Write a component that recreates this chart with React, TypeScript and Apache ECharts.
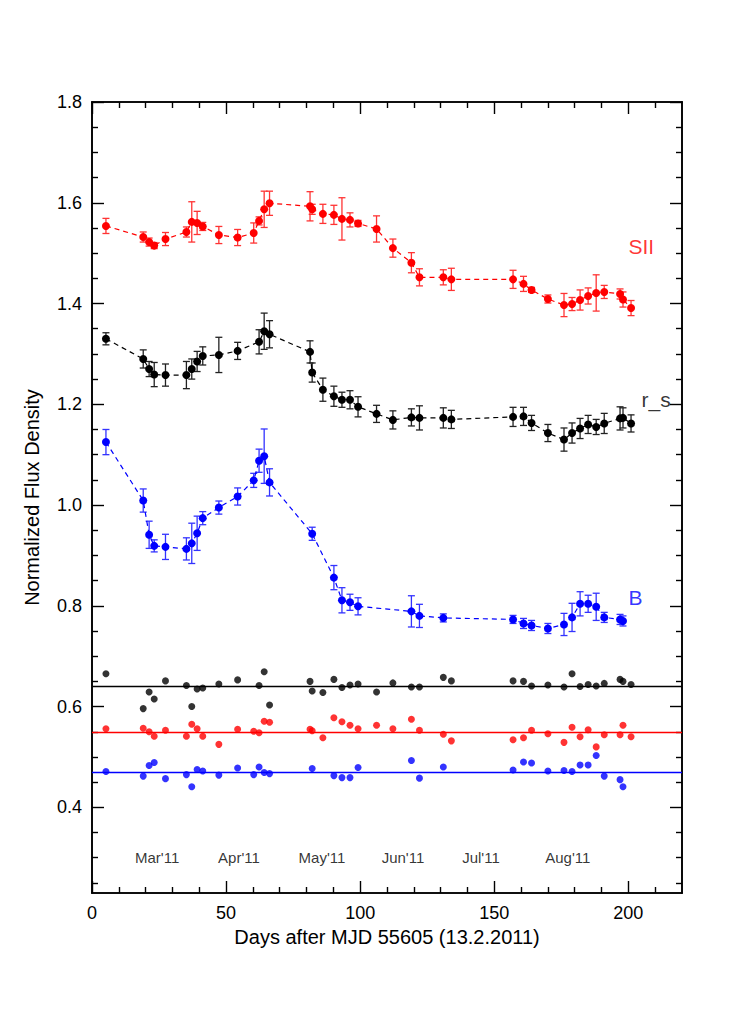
import React, { useEffect, useRef } from "react";
import * as echarts from "echarts";

const FONT = "Liberation Sans, Arial, Helvetica, sans-serif";

// SII (red)
const sDays = [5.2, 19.1, 21.3, 23.2, 27.4, 35.2, 37.2, 39.2, 41.3, 47.3, 54.3, 60.3, 62.3, 64.2, 66.2, 81.3, 82.1, 86.1, 90.2, 93.2, 96.2, 99.2, 106.1, 112.2, 119.1, 122.1, 131, 134, 157, 160.9, 163.9, 170, 176, 179, 182, 185, 188, 191, 196.9, 198, 201];
const sFlux = [1.554, 1.532, 1.522, 1.515, 1.528, 1.542, 1.562, 1.56, 1.553, 1.536, 1.531, 1.54, 1.564, 1.587, 1.599, 1.593, 1.587, 1.578, 1.576, 1.568, 1.566, 1.559, 1.548, 1.51, 1.481, 1.452, 1.452, 1.448, 1.448, 1.439, 1.427, 1.409, 1.397, 1.399, 1.407, 1.415, 1.421, 1.423, 1.419, 1.408, 1.391];
const sErr = [0.015, 0.01, 0.008, 0.006, 0.013, 0.01, 0.04, 0.023, 0.008, 0.017, 0.016, 0.02, 0.008, 0.036, 0.024, 0.029, 0.01, 0.019, 0.019, 0.042, 0.014, 0.006, 0.026, 0.018, 0.02, 0.017, 0.015, 0.022, 0.018, 0.015, 0.005, 0.008, 0.023, 0.013, 0.02, 0.016, 0.036, 0.013, 0.01, 0.015, 0.015];
const sComp = [0.556, 0.557, 0.55, 0.541, 0.553, 0.541, 0.565, 0.556, 0.541, 0.525, 0.555, 0.551, 0.548, 0.571, 0.569, 0.555, 0.552, 0.538, 0.578, 0.57, 0.563, 0.556, 0.563, 0.556, 0.575, 0.553, 0.545, 0.532, 0.534, 0.538, 0.553, 0.546, 0.529, 0.559, 0.54, 0.554, 0.52, 0.544, 0.544, 0.563, 0.54];
const sCompMean = 0.551;

// r_s (black)
const rDays = [5.2, 19.1, 21.3, 23.2, 27.4, 35.2, 37.2, 39.2, 41.3, 47.3, 54.3, 62.3, 64.2, 66.2, 81.3, 82.1, 86.1, 90.2, 93.2, 96.2, 99.2, 106.1, 112.2, 119.1, 122.1, 131, 134, 157, 160.9, 163.9, 170, 176, 179, 182, 185, 188, 191, 196.9, 198, 201];
const rFlux = [1.33, 1.29, 1.27, 1.259, 1.258, 1.258, 1.27, 1.285, 1.296, 1.298, 1.306, 1.324, 1.345, 1.339, 1.304, 1.263, 1.229, 1.216, 1.209, 1.209, 1.195, 1.181, 1.169, 1.174, 1.173, 1.173, 1.17, 1.175, 1.176, 1.163, 1.143, 1.13, 1.143, 1.152, 1.16, 1.155, 1.162, 1.172, 1.173, 1.162];
const rErr = [0.012, 0.018, 0.015, 0.024, 0.022, 0.027, 0.02, 0.02, 0.018, 0.035, 0.017, 0.024, 0.036, 0.027, 0.022, 0.019, 0.023, 0.02, 0.015, 0.018, 0.02, 0.017, 0.018, 0.017, 0.024, 0.02, 0.018, 0.019, 0.018, 0.015, 0.017, 0.023, 0.02, 0.02, 0.018, 0.015, 0.02, 0.023, 0.02, 0.017];
const rComp = [0.665, 0.596, 0.629, 0.615, 0.651, 0.642, 0.6, 0.635, 0.637, 0.645, 0.653, 0.642, 0.669, 0.603, 0.65, 0.631, 0.628, 0.654, 0.638, 0.643, 0.645, 0.629, 0.647, 0.639, 0.639, 0.658, 0.651, 0.651, 0.65, 0.641, 0.643, 0.639, 0.665, 0.64, 0.644, 0.641, 0.646, 0.654, 0.65, 0.644];
const rCompMean = 0.641;

// B (blue)
const bDays = [5.2, 19.1, 21.3, 23.2, 27.4, 35.2, 37.2, 39.2, 41.3, 47.3, 54.3, 60.3, 62.3, 64.2, 66.2, 82.1, 90.2, 93.2, 96.2, 99.2, 119.1, 122.1, 131, 157, 160.9, 163.9, 170, 176, 179, 182, 185, 188, 191, 196.9, 198];
const bFlux = [1.125, 1.009, 0.941, 0.919, 0.917, 0.913, 0.924, 0.944, 0.974, 0.995, 1.017, 1.049, 1.088, 1.097, 1.045, 0.943, 0.856, 0.811, 0.807, 0.799, 0.789, 0.78, 0.776, 0.773, 0.765, 0.761, 0.755, 0.763, 0.777, 0.804, 0.804, 0.798, 0.777, 0.773, 0.77];
const bErr = [0.025, 0.023, 0.027, 0.012, 0.025, 0.022, 0.04, 0.034, 0.013, 0.013, 0.017, 0.014, 0.023, 0.054, 0.027, 0.013, 0.024, 0.025, 0.016, 0.017, 0.031, 0.023, 0.008, 0.008, 0.01, 0.01, 0.01, 0.022, 0.028, 0.024, 0.017, 0.027, 0.01, 0.01, 0.01];
const bComp = [0.471, 0.462, 0.483, 0.489, 0.457, 0.465, 0.441, 0.475, 0.472, 0.464, 0.478, 0.465, 0.48, 0.469, 0.467, 0.477, 0.463, 0.459, 0.459, 0.479, 0.493, 0.458, 0.48, 0.474, 0.49, 0.488, 0.472, 0.473, 0.471, 0.484, 0.484, 0.503, 0.462, 0.455, 0.441];
const bCompMean = 0.471;

// Axis ticks
const xMajor = [0, 50, 100, 150, 200];
const xMinor = [10, 20, 30, 40, 60, 70, 80, 90, 110, 120, 130, 140, 160, 170, 180, 190, 210];
const yMajor = [0.4, 0.6, 0.8, 1.0, 1.2, 1.4, 1.6, 1.8];
const yMinor = [0.25, 0.3, 0.35, 0.45, 0.5, 0.55, 0.65, 0.7, 0.75, 0.85, 0.9, 0.95, 1.05, 1.1, 1.15, 1.25, 1.3, 1.35, 1.45, 1.5, 1.55, 1.65, 1.7, 1.75];

// Month annotations
const monthNames = ["Mar'11", "Apr'11", "May'11", "Jun'11", "Jul'11", "Aug'11"];
const monthDays = [16, 47, 77, 108, 138, 169];
const monthLabelY = 0.3;

// Band labels
const bandNames = ["SII", "r_s", "B"];
const bandPos = [
  [200, 1.514],
  [204.9, 1.21],
  [200, 0.817],
];
const bandColors = ["#ff0000", "#000000", "#0000ff"];

const X_MIN = 0, X_MAX = 220, Y_MIN = 0.23, Y_MAX = 1.8;

function zip(d: number[], v: number[]) {
  return d.map((x, i) => [x, v[i]]);
}
function errData(d: number[], v: number[], e: number[]) {
  return d.map((x, i) => [x, v[i] - e[i], v[i] + e[i]]);
}

function errSeries(data: number[][], color: string) {
  return {
    type: "custom",
    xAxisIndex: 0,
    yAxisIndex: 0,
    data,
    encode: { x: 0, y: [1, 2] },
    z: 2,
    renderItem: (params: any, api: any) => {
      const x = api.value(0);
      const lo = api.coord([x, api.value(1)]);
      const hi = api.coord([x, api.value(2)]);
      const w = 3.5;
      const style = { stroke: color, lineWidth: 1.3 };
      return {
        type: "group",
        children: [
          { type: "line", shape: { x1: lo[0], y1: lo[1], x2: hi[0], y2: hi[1] }, style },
          { type: "line", shape: { x1: lo[0] - w, y1: lo[1], x2: lo[0] + w, y2: lo[1] }, style },
          { type: "line", shape: { x1: hi[0] - w, y1: hi[1], x2: hi[0] + w, y2: hi[1] }, style },
        ],
      };
    },
  };
}

function lineSeries(data: number[][], color: string) {
  return {
    type: "line",
    xAxisIndex: 0,
    yAxisIndex: 0,
    data,
    symbol: "circle",
    symbolSize: 8,
    showSymbol: true,
    z: 3,
    itemStyle: { color },
    lineStyle: { color, width: 1.2, type: [5, 4] },
  };
}

function compSeries(data: number[][], color: string, mean: number) {
  return {
    type: "scatter",
    xAxisIndex: 0,
    yAxisIndex: 0,
    data,
    symbolSize: 7,
    z: 3,
    itemStyle: { color },
    markLine: {
      silent: true,
      symbol: "none",
      label: { show: false },
      lineStyle: { color, width: 1.3, type: "solid" },
      data: [{ yAxis: mean }],
    },
  };
}

function xAx(position: string, ticks: number[], len: number, labels: boolean, name?: string) {
  return {
    type: "value",
    min: X_MIN,
    max: X_MAX,
    position,
    axisLine: { show: true, onZero: false, lineStyle: { color: "#000", width: 1.6 } },
    axisTick: { show: true, inside: true, length: len, customValues: ticks, lineStyle: { color: "#000", width: 1.4 } },
    axisLabel: labels
      ? { show: true, customValues: ticks, fontSize: 18, color: "#000", fontFamily: FONT, margin: 11 }
      : { show: false },
    splitLine: { show: false },
    name: name || "",
    nameLocation: "middle",
    nameGap: 34,
    nameTextStyle: { fontSize: 20, color: "#000", fontFamily: FONT },
  };
}

function yAx(position: string, ticks: number[], len: number, labels: boolean, name?: string) {
  return {
    type: "value",
    min: Y_MIN,
    max: Y_MAX,
    position,
    axisLine: { show: true, onZero: false, lineStyle: { color: "#000", width: 1.6 } },
    axisTick: { show: true, inside: true, length: len, customValues: ticks, lineStyle: { color: "#000", width: 1.4 } },
    axisLabel: labels
      ? { show: true, customValues: ticks, fontSize: 18, color: "#000", fontFamily: FONT, margin: 10, formatter: (v: number) => v.toFixed(1) }
      : { show: false },
    splitLine: { show: false },
    name: name || "",
    nameLocation: "middle",
    nameGap: 50,
    nameTextStyle: { fontSize: 20, color: "#000", fontFamily: FONT },
  };
}

export default function App() {
  const ref = useRef<HTMLDivElement>(null);
  useEffect(() => {
    document.body.style.margin = "0";
    const chart = echarts.init(ref.current!, null, { renderer: "svg" });
    const option: any = {
      animation: false,
      backgroundColor: "#ffffff",
      textStyle: { fontFamily: FONT },
      grid: { left: 92, right: 55, top: 102, bottom: 127, containLabel: false, outerBoundsMode: "none" },
      xAxis: [
        xAx("bottom", xMajor, 12, true, "Days after MJD 55605 (13.2.2011)"),
        xAx("bottom", xMinor, 6, false),
        xAx("top", xMajor, 12, false),
        xAx("top", xMinor, 6, false),
      ],
      yAxis: [
        yAx("left", yMajor, 12, true, "Normalized Flux Density"),
        yAx("left", yMinor, 6, false),
        yAx("right", yMajor, 12, false),
        yAx("right", yMinor, 6, false),
      ],
      series: [
        errSeries(errData(sDays, sFlux, sErr), "#ff3333"),
        errSeries(errData(rDays, rFlux, rErr), "#222222"),
        errSeries(errData(bDays, bFlux, bErr), "#3333ff"),
        lineSeries(zip(sDays, sFlux), "#ff0000"),
        lineSeries(zip(rDays, rFlux), "#000000"),
        lineSeries(zip(bDays, bFlux), "#0000ff"),
        compSeries(zip(sDays, sComp), "#ff0000", sCompMean),
        compSeries(zip(rDays, rComp), "#000000", rCompMean),
        compSeries(zip(bDays, bComp), "#0000ff", bCompMean),
        {
          type: "scatter",
          xAxisIndex: 0,
          yAxisIndex: 0,
          silent: true,
          symbolSize: 0.1,
          itemStyle: { color: "rgba(0,0,0,0)" },
          data: monthDays.map((d, i) => ({ value: [d, monthLabelY], name: monthNames[i] })),
          label: {
            show: true,
            position: "right",
            distance: 0,
            formatter: (p: any) => p.name,
            fontSize: 15,
            color: "#000",
            fontFamily: FONT,
          },
        },
        {
          type: "scatter",
          xAxisIndex: 0,
          yAxisIndex: 0,
          silent: true,
          symbolSize: 0.1,
          itemStyle: { color: "rgba(0,0,0,0)" },
          data: bandPos.map((p, i) => ({
            value: p,
            name: bandNames[i],
            label: { color: bandColors[i] },
          })),
          label: {
            show: true,
            position: "right",
            distance: 0,
            formatter: (p: any) => p.name,
            fontSize: 21,
            fontFamily: FONT,
          },
        },
      ],
    };
    chart.setOption(option);
    return () => chart.dispose();
  }, []);
  return <div ref={ref} style={{ width: 737, height: 1020 }} />;
}
